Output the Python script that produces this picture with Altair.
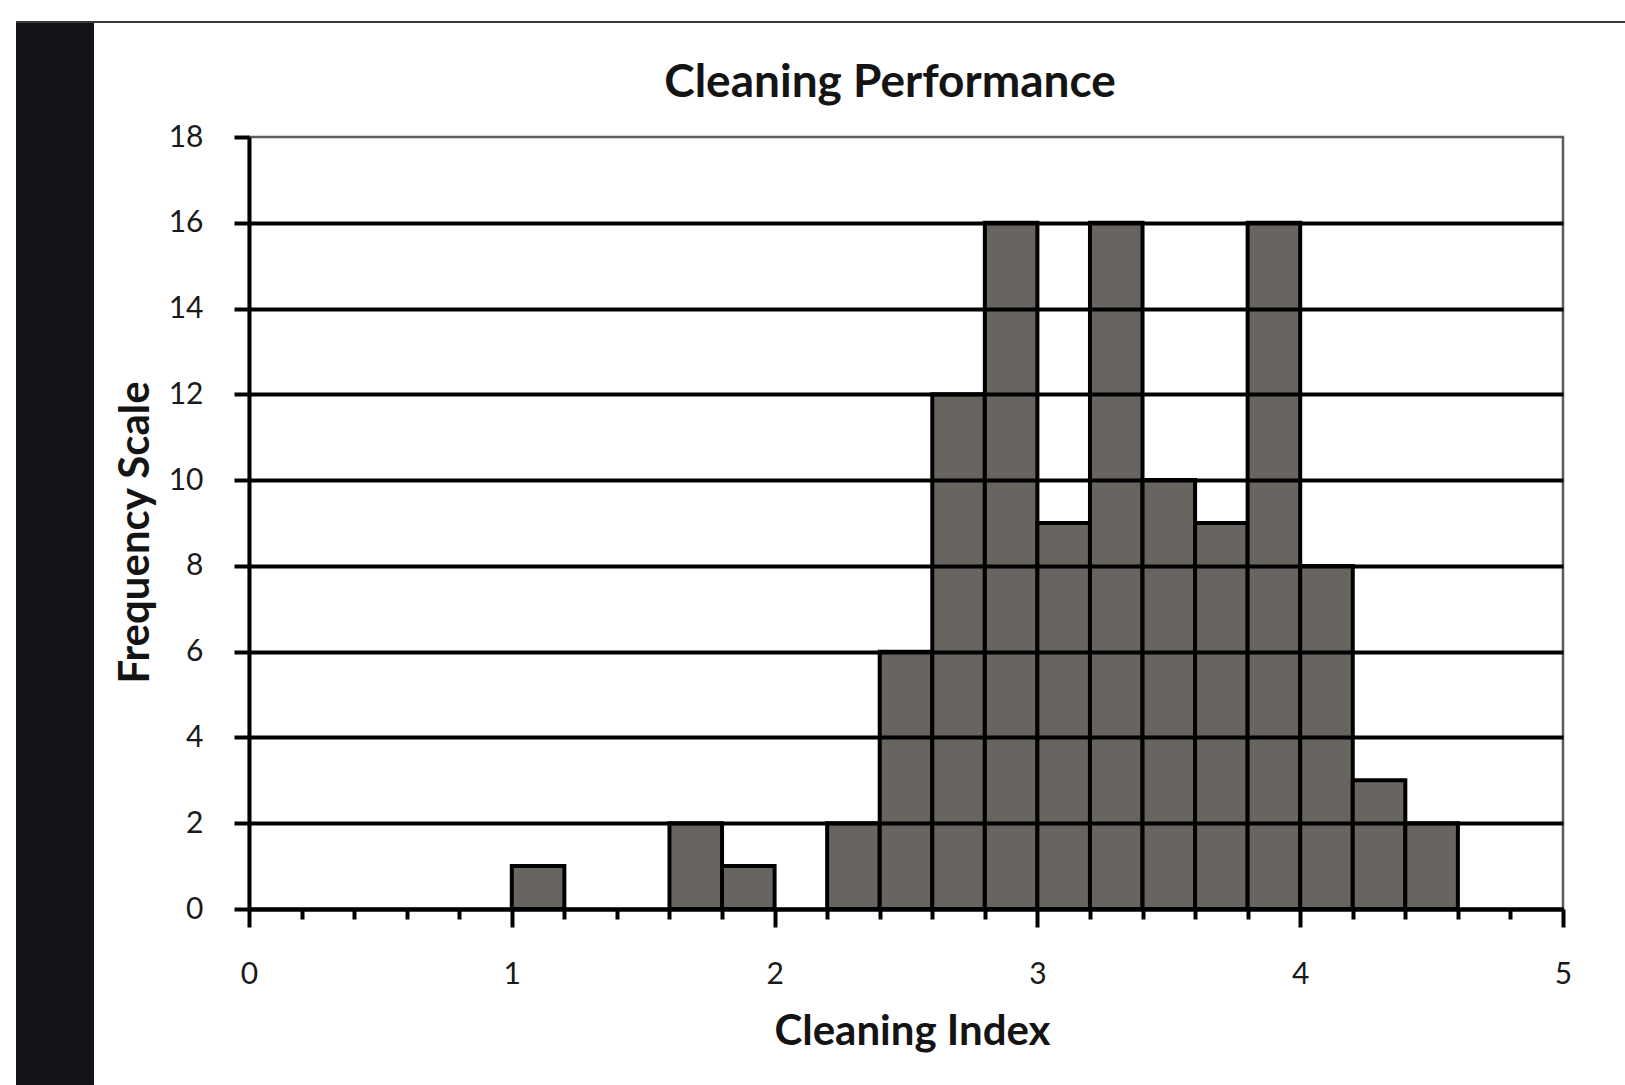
import altair as alt
import pandas as pd

# Histogram of cleaning index values, bins of width 0.2
bin_start = [1.0, 1.6, 1.8, 2.2, 2.4, 2.6, 2.8, 3.0, 3.2, 3.4, 3.6, 3.8, 4.0, 4.2, 4.4]
bin_end = [1.2, 1.8, 2.0, 2.4, 2.6, 2.8, 3.0, 3.2, 3.4, 3.6, 3.8, 4.0, 4.2, 4.4, 4.6]
counts = [1, 2, 1, 2, 6, 12, 16, 9, 16, 10, 9, 16, 8, 3, 2]

x_ticks = [0, 0.2, 0.4, 0.6, 0.8, 1, 1.2, 1.4, 1.6, 1.8, 2, 2.2, 2.4, 2.6, 2.8,
           3, 3.2, 3.4, 3.6, 3.8, 4, 4.2, 4.4, 4.6, 4.8, 5]
y_ticks = [0, 2, 4, 6, 8, 10, 12, 14, 16, 18]

FONT = "Lato"
W, H = 1314, 772
PAD_L, PAD_T = 249, 137
PAGE_W, PAGE_H = 1625, 1085
LINE = 4

df = pd.DataFrame({"start": bin_start, "end": bin_end, "count": counts})

is_major = "abs(datum.value - round(datum.value)) < 0.001"

x_axis = alt.Axis(
    values=x_ticks,
    labelExpr=f"{is_major} ? format(datum.value, 'd') : ''",
    tickSize={"condition": {"test": is_major, "value": 18}, "value": 10},
    tickWidth=LINE, tickColor="black",
    domainColor="black", domainWidth=LINE,
    grid=False,
    labelFont=FONT, labelFontSize=30, labelColor="#1a1a1a", labelPadding=32,
    labelFlush=False, labelOverlap=False,
    title="Cleaning Index", titleFont=FONT, titleFontSize=42, titleFontWeight="bold",
    titleColor="#141414", titleX=663, titleY=122, titleBaseline="middle",
    titleAnchor="start", titleAlign="center", zindex=2,
)

y_axis = alt.Axis(
    values=y_ticks,
    tickSize=15, tickWidth=LINE, tickColor="black",
    domainColor="black", domainWidth=LINE,
    grid=True, gridColor="black", gridWidth=LINE,
    gridOpacity={"condition": {"test": "datum.value == 18", "value": 0}, "value": 1},
    labelFont=FONT, labelFontSize=30, labelColor="#1a1a1a", labelPadding=31,
    title="Frequency Scale", titleFont=FONT, titleFontSize=42, titleFontWeight="bold",
    titleColor="#141414", titleAngle=-90, titleX=-114, titleY=395,
    titleBaseline="middle", titleAlign="center", zindex=2,
)

bars = alt.Chart(df).mark_rect(
    fill="#686460", stroke="black", strokeWidth=LINE
).encode(
    x=alt.X("start:Q", scale=alt.Scale(domain=[0, 5], nice=False, zero=False), axis=x_axis),
    x2="end:Q",
    y=alt.Y("count:Q", scale=alt.Scale(domain=[0, 18], nice=False), axis=y_axis),
    y2=alt.Y2(datum=0),
)

# page edge: dark strip at left and a thin rule along the top
deco = pd.DataFrame({"label": ["Cleaning Performance"]})
strip = alt.Chart(deco).mark_rect(color="#15131a").encode(
    x=alt.value(16 - PAD_L), x2=alt.value(94 - PAD_L),
    y=alt.value(22 - PAD_T), y2=alt.value(PAGE_H - PAD_T),
)
top_rule = alt.Chart(deco).mark_rule(color="#3a3838", strokeWidth=2).encode(
    x=alt.value(16 - PAD_L), x2=alt.value(PAGE_W - PAD_L), y=alt.value(22 - PAD_T),
)
heading = alt.Chart(deco).mark_text(
    font=FONT, fontSize=46, fontWeight="bold", color="#141414",
    align="center", baseline="middle",
).encode(
    text="label:N", x=alt.value(890 - PAD_L), y=alt.value(83 - PAD_T),
)

chart = alt.layer(strip, top_rule, heading, bars).properties(
    width=W, height=H,
    background="white",
    autosize=alt.AutoSizeParams(type="none"),
    padding={"left": PAD_L, "top": PAD_T, "right": PAGE_W - PAD_L - W,
             "bottom": PAGE_H - PAD_T - H},
).configure_view(
    stroke="#5e5c5a", strokeWidth=2.5,
)

chart.save("out.html", embed_options={"renderer": "svg", "actions": False})
